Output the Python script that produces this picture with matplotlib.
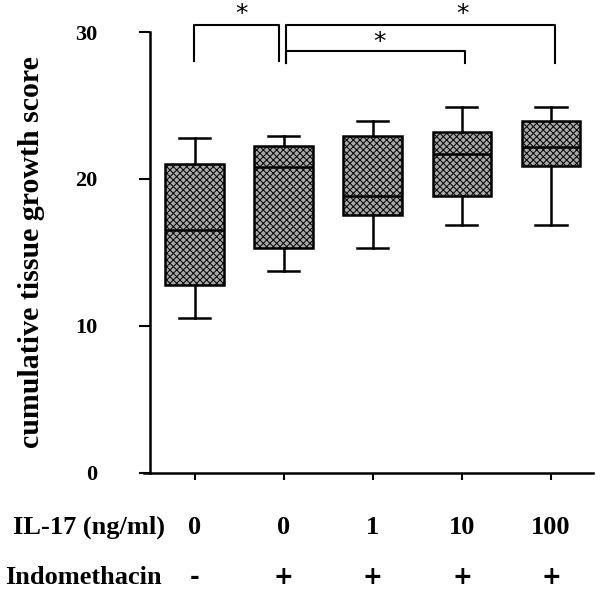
import matplotlib.pyplot as plt
import matplotlib.transforms as mtransforms

plt.rcParams['font.family'] = ['Liberation Serif', 'DejaVu Serif']
plt.rcParams['font.weight'] = 'bold'
plt.rcParams['hatch.linewidth'] = 0.7

# box statistics
positions = [1, 2, 3, 4, 5]
whisker_low = [10.5, 13.75, 15.3, 16.85, 16.85]
q1 = [12.77, 15.27, 17.56, 18.82, 20.87]
medians = [16.52, 20.81, 18.82, 21.7, 22.16]
q3 = [21.01, 22.26, 22.9, 23.17, 23.93]
whisker_high = [22.77, 22.94, 23.93, 24.92, 24.92]

il17_labels = ['0', '0', '1', '10', '100']
indo_labels = ['-', '+', '+', '+', '+']

# significance brackets: (left x, right x, top y, leg bottom y, star x, star y)
brackets = [
    (0.99, 1.95, 30.48, 28.05, 1.53, 31.2),
    (2.03, 5.04, 30.48, 27.9, 4.01, 31.2),
    (2.03, 4.03, 28.71, 27.9, 3.08, 29.35),
]

stats = []
for i in range(len(positions)):
    stats.append({'whislo': whisker_low[i], 'q1': q1[i], 'med': medians[i],
                  'q3': q3[i], 'whishi': whisker_high[i], 'fliers': []})

fig = plt.figure(figsize=(6, 5.94), dpi=100)
ax = fig.add_axes([0.24, 0.2045, 0.748, 0.7416])

lw = 1.8
bp = ax.bxp(stats, positions=positions, widths=0.66, patch_artist=True,
            showfliers=False,
            boxprops=dict(facecolor='#a8a8a8', edgecolor='black', linewidth=lw, hatch='xxxxx'),
            medianprops=dict(color='black', linewidth=lw),
            whiskerprops=dict(color='black', linewidth=lw),
            capprops=dict(color='black', linewidth=lw),
            capwidths=0.35)

ax.set_xlim(0.43, 5.47)
ax.set_ylim(0, 30)
ax.spines['top'].set_visible(False)
ax.spines['right'].set_visible(False)
ax.spines['left'].set_position(('data', 0.5))
ax.spines['left'].set_linewidth(lw)
ax.spines['bottom'].set_linewidth(lw)

ax.set_yticks([0, 10, 20, 30])
ax.set_yticklabels(['0', '10', '20', '30'], fontsize=16, fontweight='bold')
ax.tick_params(axis='y', length=8, width=1.5, pad=30)
ax.set_xticks(positions)
ax.set_xticklabels([])
ax.tick_params(axis='x', length=5, width=1.5)

ax.set_ylabel('cumulative tissue growth score', fontsize=21.5, fontweight='bold')
ax.yaxis.set_label_coords(-0.22, 0.5)

for x0, x1, top, bot, sx, sy in brackets:
    ax.plot([x0, x0, x1, x1], [bot, top, top, bot], color='black', lw=1.5, clip_on=False)
    ax.text(sx, sy, '*', ha='center', va='center', fontsize=18,
            family='DejaVu Sans', fontweight='normal', clip_on=False)

trans = mtransforms.blended_transform_factory(ax.transData, fig.transFigure)
for x, lab in zip(positions, il17_labels):
    ax.text(x, 1 - 527 / 594, lab, transform=trans, ha='center', va='center',
            fontsize=19, fontweight='bold')
for x, lab in zip(positions, indo_labels):
    ax.text(x, 1 - 577 / 594, lab, transform=trans, ha='center', va='center',
            fontsize=17, fontweight='bold', family='DejaVu Sans')
fig.text(0.022, 1 - 527 / 594, 'IL-17 (ng/ml)', ha='left', va='center', fontsize=19, fontweight='bold')
fig.text(0.008, 1 - 578 / 594, 'Indomethacin', ha='left', va='center', fontsize=19, fontweight='bold')

fig.savefig('out.png', dpi=100)
